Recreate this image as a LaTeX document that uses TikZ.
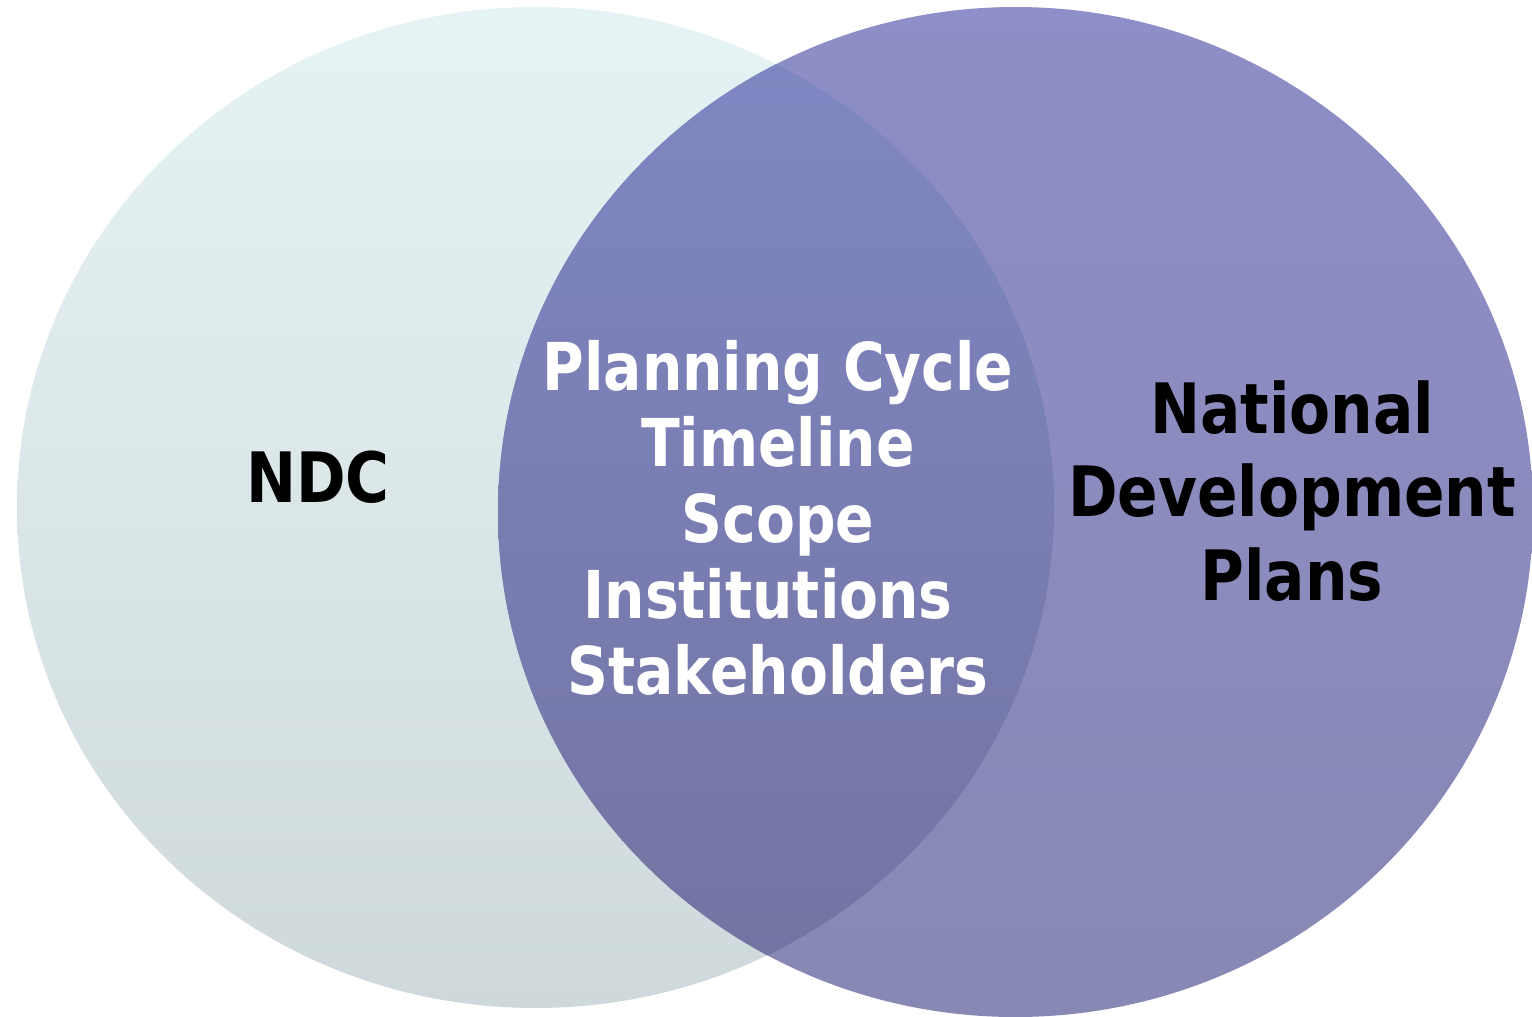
\documentclass[tikz,border=0pt]{standalone}
\usepackage{fontspec}
\newfontfamily\vennfont{DejaVu Sans}[FakeStretch=0.86]

\definecolor{ndcTop}{HTML}{E6F3F4}
\definecolor{ndcBottom}{HTML}{CFD9DB}
\definecolor{ndpTop}{HTML}{8E8EC8}
\definecolor{ndpBottom}{HTML}{8888B4}
\definecolor{bothTop}{HTML}{7F87C2}
\definecolor{bothBottom}{HTML}{7374A2}

\tikzset{
  setlabel/.style={inner sep=0pt, align=center,
    font=\vennfont\bfseries\fontsize{69.5}{83.5}\selectfont},
  commonlabel/.style={setlabel, text=white,
    font=\vennfont\bfseries\fontsize{66}{76}\selectfont},
}

\begin{document}
\begin{tikzpicture}[x=1pt,y=-1pt]
  \useasboundingbox (0,0) rectangle (1532,1017);

  \def\leftset{(535.5,507.5) ellipse [x radius=518.5pt, y radius=500.5pt]}
  \def\rightset{(1015.5,512) ellipse [x radius=517.5pt, y radius=505pt]}

  % the two sets
  \shade[top color=ndcTop, bottom color=ndcBottom] \leftset;
  \shade[top color=ndpTop, bottom color=ndpBottom] \rightset;

  % overlap
  \begin{scope}
    \clip \leftset;
    \clip \rightset;
    \shade[top color=bothTop, bottom color=bothBottom]
      (497,62) rectangle (1055,957);
  \end{scope}

  \node[setlabel, anchor=base] (ndc) at (318,502) {NDC};
  \node[commonlabel, anchor=north] (common) at (778,340)
    {Planning Cycle\\Timeline\\Scope\\Institutions\phantom{\ }\\Stakeholders};
  \node[setlabel, anchor=north] (ndp) at (1292,380)
    {National\\Development\\Plans};
\end{tikzpicture}
\end{document}
